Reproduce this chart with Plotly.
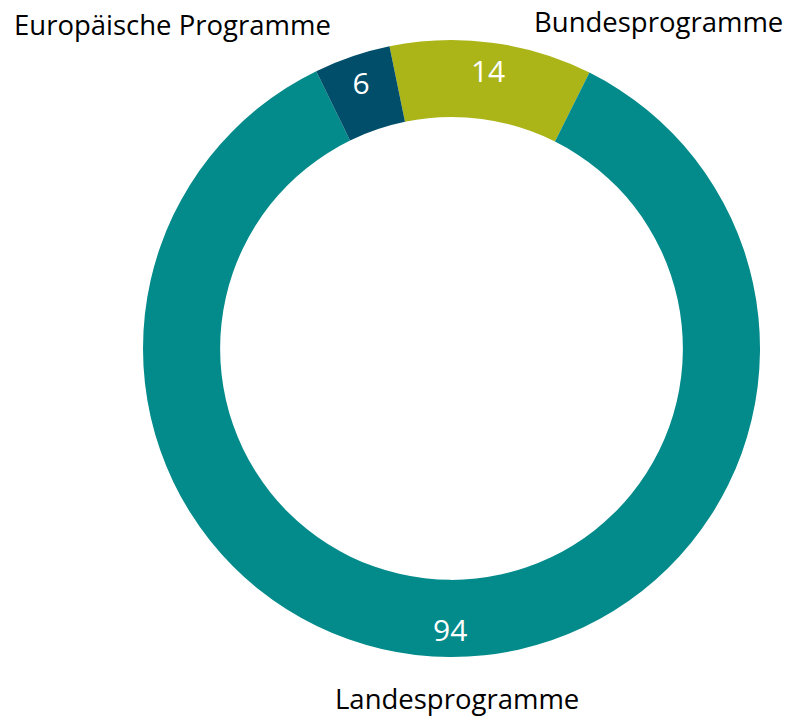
import plotly.graph_objects as go

# Data (slice order clockwise from the Bundes/Europa boundary at the top)
categories = ["Bundesprogramme", "Landesprogramme", "Europäische Programme"]
count_labels = ["14", "94", "6"]                 # numbers printed in the ring
slice_share_pct = [10.6, 85.4, 4.0]              # arc shares
colors = ["#ABB518", "#038A8A", "#004E69"]

W, H = 786, 718
ML, MR, MT, MB = 143, 26, 40, 61
pw, ph = W - ML - MR, H - MT - MB


def px(x):
    return (x - ML) / pw


def py(y):
    return (H - MB - y) / ph


common = dict(
    labels=categories,
    values=slice_share_pct,
    sort=False,
    direction="clockwise",
    rotation=-11.6,
    showlegend=False,
)

fig = go.Figure()
# coloured ring
fig.add_trace(go.Pie(
    **common,
    hole=0.75,
    textinfo="none",
    marker=dict(colors=colors, line=dict(width=0)),
    hoverinfo="label+text",
    text=count_labels,
))
# transparent outer band carrying the value labels (slightly outward like the original)
fig.add_trace(go.Pie(
    **common,
    hole=0.82,
    text=count_labels,
    textinfo="text",
    textposition="inside",
    insidetextorientation="horizontal",
    textfont=dict(family="Open Sans", size=30, color="white"),
    marker=dict(colors=["rgba(0,0,0,0)"] * 3, line=dict(width=0)),
    hoverinfo="skip",
))

label_pos = {
    "Europäische Programme": (172.5, 25),
    "Bundesprogramme": (658.5, 21),
    "Landesprogramme": (456.5, 698),
}
for name in categories:
    x, y = label_pos[name]
    fig.add_annotation(
        text=name, x=px(x), y=py(y), xref="paper", yref="paper",
        xanchor="center", yanchor="middle", showarrow=False,
        font=dict(family="Open Sans", size=27.5, color="#000000"),
    )

fig.update_layout(
    width=W, height=H,
    margin=dict(l=ML, r=MR, t=MT, b=MB),
    paper_bgcolor="white", plot_bgcolor="white",
)

fig.write_html(
    "out.html",
    config={"displayModeBar": False},
    post_script="document.body.style.margin='0px';document.body.style.overflow='hidden';",
)
